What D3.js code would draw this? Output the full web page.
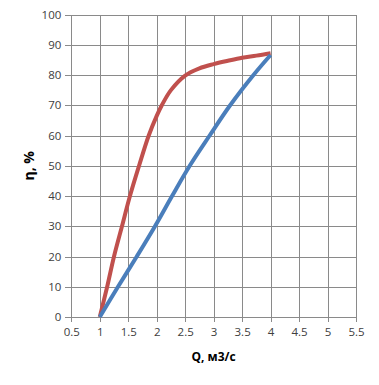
<!DOCTYPE html>
<html>
<head>
<meta charset="utf-8">
<script src="https://cdn.jsdelivr.net/npm/d3@7"></script>
<style>
html,body{margin:0;padding:0;background:#fff;}
svg{display:block;}
</style>
</head>
<body>
<svg id="chart" width="379" height="385"></svg>
<script>
// ---- data ----
const xTicks = [0.5, 1, 1.5, 2, 2.5, 3, 3.5, 4, 4.5, 5, 5.5];
const xTickLabels = ["0.5","1","1.5","2","2.5","3","3.5","4","4.5","5","5.5"];
const yTicks = [0, 10, 20, 30, 40, 50, 60, 70, 80, 90, 100];
const redQ   = [1, 1.13, 1.25, 1.39, 1.53, 1.69, 1.86, 2.0, 2.09, 2.25, 2.5, 2.75, 3.0, 3.25, 3.5, 3.75, 4.0];
const redEta = [0, 10, 20, 30, 40, 50, 60, 66.5, 70, 75, 79.8, 82.2, 83.6, 84.7, 85.7, 86.4, 87.2];
const blueQ   = [1, 1.32, 1.65, 1.97, 2.27, 2.58, 2.93, 3.29, 3.70, 4.0];
const blueEta = [0, 10, 20, 30, 40, 50, 60, 70, 80, 86.6];
const xTitle = "Q, м3/с";
const yTitle = "η, %";

// ---- layout ----
const svg = d3.select("#chart");
const x = d3.scaleLinear().domain([0.5, 5.5]).range([71.3, 356]);
const y = d3.scaleLinear().domain([0, 100]).range([317, 14.5]);
const gridColor = "#8a8a8a";
const font = "'Open Sans', sans-serif";

// grid
const gx = svg.append("g").attr("transform", `translate(0,${y(0)})`)
  .call(d3.axisBottom(x).tickValues(xTicks).tickSizeInner(-(y(0)-y(100))).tickSizeOuter(0).tickFormat(""));
const gy = svg.append("g").attr("transform", `translate(${x(0.5)},0)`)
  .call(d3.axisLeft(y).tickValues(yTicks).tickSizeInner(-(x(5.5)-x(0.5))).tickSizeOuter(0).tickFormat(""));
[gx, gy].forEach(g => {
  g.select(".domain").remove();
  g.selectAll("line").attr("stroke", gridColor).attr("stroke-width", 1).attr("shape-rendering","crispEdges");
});

// axes with ticks and labels
const ax = svg.append("g").attr("transform", `translate(0,${y(0)})`)
  .call(d3.axisBottom(x).tickValues(xTicks).tickSizeInner(5).tickSizeOuter(0).tickPadding(6)
    .tickFormat((d,i) => xTickLabels[i]));
const ay = svg.append("g").attr("transform", `translate(${x(0.5)},0)`)
  .call(d3.axisLeft(y).tickValues(yTicks).tickSizeInner(6).tickSizeOuter(0).tickPadding(4));
[ax, ay].forEach(g => {
  g.select(".domain").attr("stroke", gridColor).attr("shape-rendering","crispEdges");
  g.selectAll("line").attr("stroke", gridColor).attr("shape-rendering","crispEdges");
  g.selectAll("text").attr("font-family", font).attr("font-size", 11.5).attr("fill", "#404040");
});

// lines
const line = d3.line().x(d => x(d[0])).y(d => y(d[1])).curve(d3.curveCatmullRom.alpha(0.5));
const redData = redQ.map((q,i) => [q, redEta[i]]);
const blueData = blueQ.map((q,i) => [q, blueEta[i]]);
svg.append("path").datum(redData).attr("d", line)
  .attr("fill","none").attr("stroke","#c0504d").attr("stroke-width",4).attr("stroke-linecap","butt");
svg.append("path").datum(blueData).attr("d", line)
  .attr("fill","none").attr("stroke","#4a7ebb").attr("stroke-width",4).attr("stroke-linecap","butt");

// titles
svg.append("text").attr("x", (x(0.5)+x(5.5))/2).attr("y", 361)
  .attr("text-anchor","middle").attr("font-family", font).attr("font-weight","bold")
  .attr("font-size", 12).attr("fill","#000").text(xTitle);
svg.append("text").attr("transform", `translate(34,${(y(0)+y(100))/2}) rotate(-90)`)
  .attr("text-anchor","middle").attr("font-family", font).attr("font-weight","bold")
  .attr("font-size", 14).attr("fill","#000").text(yTitle);
</script>
</body>
</html>
